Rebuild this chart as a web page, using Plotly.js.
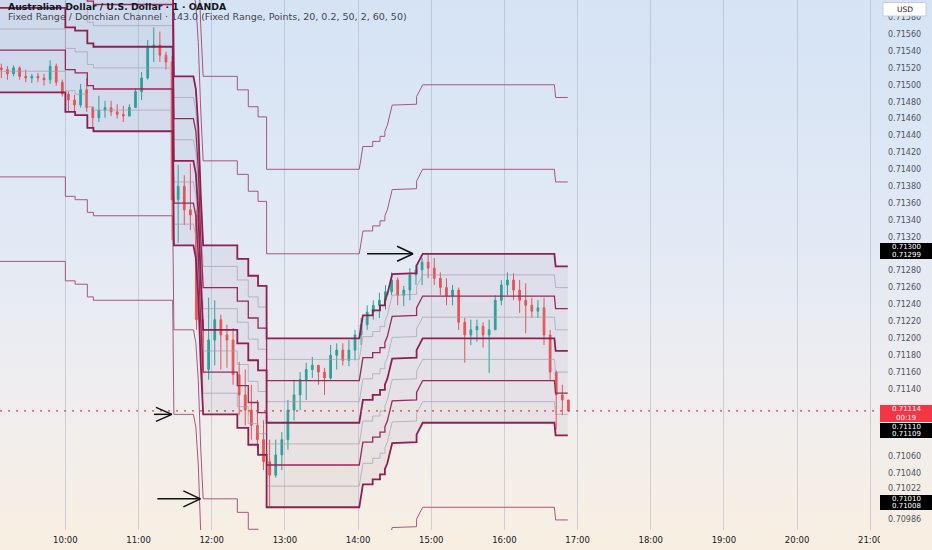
<!DOCTYPE html>
<html><head><meta charset="utf-8">
<script src="https://cdn.plot.ly/plotly-3.0.1.min.js"></script>
<style>
html,body{margin:0;padding:0;}
#chart{width:932px;height:550px;background:linear-gradient(to bottom,#d5e3f5 0%,#e1e9f5 40%,#eeedf0 68%,#f8efe2 100%);}
</style></head><body><div id="chart"></div>
<script>
// ---------- data ----------
const candleTimes=['09:05','09:10','09:15','09:20','09:25','09:30','09:35','09:40','09:45','09:50','09:55',
'10:00','10:05','10:10','10:15','10:20','10:25','10:30','10:35','10:40','10:45','10:50','10:55',
'11:00','11:05','11:10','11:15','11:20','11:25','11:30','11:35','11:40','11:45','11:50','11:55',
'12:00','12:05','12:10','12:15','12:20','12:25','12:30','12:35','12:40','12:45','12:50','12:55',
'13:00','13:05','13:10','13:15','13:20','13:25','13:30','13:35','13:40','13:45','13:50','13:55',
'14:00','14:05','14:10','14:15','14:20','14:25','14:30','14:35','14:40','14:45','14:50','14:55',
'15:00','15:05','15:10','15:15','15:20','15:25','15:30','15:35','15:40','15:45','15:50','15:55',
'16:00','16:05','16:10','16:15','16:20','16:25','16:30','16:35','16:40','16:45','16:50'];
const candleHigh=[0.71525,0.71522,0.71523,0.71522,0.71518,0.71513,0.71514,0.71513,0.71529,0.71525,0.71506,
0.71492,0.71488,0.71501,0.71508,0.71473,0.71487,0.71481,0.71481,0.71477,0.71475,0.71477,0.71496,
0.71515,0.71553,0.71568,0.71563,0.71539,0.71534,0.71405,0.71393,0.71407,0.71352,0.71245,0.71248,
0.71245,0.71228,0.71216,0.71212,0.71172,0.71163,0.71145,0.71127,0.71103,0.71080,0.71080,0.71089,
0.71127,0.71151,0.71160,0.71171,0.71178,0.71168,0.71165,0.71192,0.71194,0.71194,0.71198,0.71210,
0.71224,0.71239,0.71245,0.71254,0.71263,0.71278,0.71272,0.71262,0.71283,0.71287,0.71295,0.71299,
0.71295,0.71278,0.71271,0.71263,0.71260,0.71224,0.71222,0.71222,0.71219,0.71222,0.71251,0.71269,
0.71278,0.71277,0.71269,0.71265,0.71248,0.71245,0.71248,0.71210,0.71162,0.71145,0.71127];
const candleLow=[0.71508,0.71506,0.71510,0.71506,0.71503,0.71502,0.71503,0.71499,0.71501,0.71499,0.71486,
0.71468,0.71469,0.71473,0.71468,0.71449,0.71456,0.71461,0.71463,0.71460,0.71456,0.71463,0.71473,
0.71482,0.71506,0.71527,0.71527,0.71518,0.71316,0.71313,0.71334,0.71328,0.71210,0.71139,0.71151,
0.71168,0.71163,0.71165,0.71145,0.71109,0.71097,0.71080,0.71068,0.71044,0.71001,0.71035,0.71044,
0.71068,0.71103,0.71115,0.71127,0.71153,0.71145,0.71133,0.71151,0.71163,0.71168,0.71167,0.71174,
0.71192,0.71210,0.71222,0.71224,0.71234,0.71251,0.71239,0.71238,0.71245,0.71263,0.71263,0.71271,
0.71263,0.71251,0.71239,0.71239,0.71210,0.71171,0.71192,0.71196,0.71189,0.71159,0.71210,0.71239,
0.71251,0.71245,0.71230,0.71206,0.71224,0.71224,0.71192,0.71151,0.71092,0.71109,0.71113];
const candleClose=[0.71518,0.71513,0.71520,0.71510,0.71508,0.71510,0.71508,0.71506,0.71522,0.71503,0.71489,
0.71482,0.71476,0.71494,0.71473,0.71461,0.71470,0.71473,0.71468,0.71465,0.71463,0.71473,0.71492,
0.71508,0.71544,0.71547,0.71535,0.71527,0.71364,0.71380,0.71352,0.71346,0.71222,0.71163,0.71198,
0.71222,0.71204,0.71198,0.71157,0.71133,0.71115,0.71097,0.71080,0.71054,0.71038,0.71062,0.71080,
0.71115,0.71133,0.71151,0.71163,0.71168,0.71160,0.71153,0.71180,0.71186,0.71174,0.71186,0.71204,
0.71216,0.71231,0.71239,0.71245,0.71255,0.71269,0.71251,0.71257,0.71275,0.71281,0.71290,0.71283,
0.71271,0.71260,0.71250,0.71257,0.71219,0.71204,0.71210,0.71214,0.71204,0.71210,0.71245,0.71263,
0.71269,0.71257,0.71245,0.71239,0.71232,0.71236,0.71204,0.71160,0.71133,0.71127,0.71114];
const firstOpen=0.71520;
const lastPrice=0.71114;

// channel bottom line (vertices); all other levels sit at fixed offsets from it
const channelTimes=['09:00','10:00','10:00','10:08','10:08','10:18','10:18','10:23','10:23','11:28','11:29','11:45','11:47','11:49','11:51','11:53',
'12:21','12:21','12:30','12:30','12:38','12:38','12:45','12:45','14:01','14:04','14:12','14:12','14:18','14:18','14:22','14:22','14:24','14:28',
'14:48','14:48','14:53','16:41','16:42','16:52'];
const channelBottom=[0.71491,0.71491,0.71468,0.71468,0.71464,0.71464,0.71449,0.71449,0.71445,0.71445,0.71310,0.71310,0.71295,0.71250,0.71170,0.71110,
0.71110,0.71094,0.71094,0.71074,0.71074,0.71062,0.71062,0.71000,0.71000,0.71027,0.71027,0.71033,0.71033,0.71039,0.71039,0.71045,0.71052,0.71076,
0.71077,0.71086,0.71100,0.71100,0.71085,0.71085];
const levelOffsets=[0.004,0.003,0.002,0.00175,0.0015,0.00125,0.001,0.00075,0.0005,0.00025,0,-0.001,-0.002];
const levelKinds=['outer','outer','thick','thin','mid','thin','thick','thin','mid','thin','thick','outer','outer'];

const priceTicks=[0.71580,0.71560,0.71540,0.71520,0.71500,0.71480,0.71460,0.71440,0.71420,0.71400,0.71380,0.71360,0.71340,0.71320,
0.71280,0.71260,0.71240,0.71220,0.71200,0.71180,0.71160,0.71140,0.71060,0.71040,0.71022,0.70986];
const hourTicks=['10:00','11:00','12:00','13:00','14:00','15:00','16:00','17:00','18:00','19:00','20:00','21:00'];

const badges=[
 {top:243,bottom:259,bg:'#000000',lines:['0.71300','0.71299']},
 {top:405,bottom:422,bg:'#f23645',lines:['0.71114','00:19']},
 {top:423,bottom:438,bg:'#000000',lines:['0.71110','0.71109']},
 {top:495,bottom:510,bg:'#000000',lines:['0.71010','0.71008']}
];
const arrows=[
 {tip:'11:50:42',price:0.71010,shaft:43,wdx:17,wdy:8},
 {tip:'11:27:24',price:0.71110,shaft:18,wdx:16,wdy:7},
 {tip:'14:45:06',price:0.71300,shaft:46,wdx:16,wdy:7.5}
];

// ---------- helpers ----------
const DAYMS=Date.UTC(2024,4,2);
function tms(s){const p=s.split(':').map(Number);return DAYMS+((p[0]*60+p[1])*60+(p[2]||0))*1000;}
const W=880,H=530;
const xRange=[tms('09:06:24'),tms('21:08:00')];
const yRange=[0.709731,0.7160035];
const msPerPx=(xRange[1]-xRange[0])/W;
const pricePerPx=(yRange[1]-yRange[0])/H;
const py=px=>1-px/H;
const pxx=px=>px/W;

// ---------- traces ----------
const traces=[];
const chX=channelTimes.map(tms);
const lvl=off=>channelBottom.map(v=>+(v+off).toFixed(6));
traces.push({x:chX,y:lvl(0),mode:'lines',line:{width:0,color:'rgba(0,0,0,0)'},hoverinfo:'skip',showlegend:false});
traces.push({x:chX,y:lvl(0.002),mode:'lines',line:{width:0,color:'rgba(0,0,0,0)'},fill:'tonexty',fillcolor:'rgba(125,100,150,0.085)',hoverinfo:'skip',showlegend:false});
const styles={thin:{color:'rgba(165,155,175,0.75)',width:0.9},outer:{color:'#a5587f',width:1},mid:{color:'#962a58',width:1.3},thick:{color:'#8d2051',width:1.8}};
['thin','outer','mid','thick'].forEach(kind=>{
  levelOffsets.forEach((off,i)=>{
    if(levelKinds[i]!==kind) return;
    traces.push({x:chX,y:lvl(off),mode:'lines',line:Object.assign({shape:'linear'},styles[kind]),hoverinfo:'skip',showlegend:false});
  });
});
const opens=candleClose.map((c,i)=>i===0?firstOpen:candleClose[i-1]);
traces.push({type:'candlestick',x:candleTimes.map(tms),xperiod:300000,xperiodalignment:'middle',
  open:opens,high:candleHigh,low:candleLow,close:candleClose,
  increasing:{line:{color:'#26a69a',width:1},fillcolor:'#26a69a'},
  decreasing:{line:{color:'#ef5350',width:1},fillcolor:'#ef5350'},
  whiskerwidth:0,hoverinfo:'skip',showlegend:false});

// ---------- decorations ----------
const shapes=[],annotations=[];
shapes.push({type:'line',xref:'paper',x0:0,x1:1,yref:'y',y0:lastPrice,y1:lastPrice,line:{color:'#f23645',width:1.3,dash:'2px,6px'},layer:'above'});
arrows.forEach(a=>{
  const t=tms(a.tip);
  const seg=(dx,dy)=>({type:'line',xref:'x',yref:'y',x0:t-dx*msPerPx,y0:a.price+dy*pricePerPx,x1:t,y1:a.price,line:{color:'#111111',width:1.5},layer:'above'});
  shapes.push(seg(a.shaft,0),seg(a.wdx,a.wdy),seg(a.wdx,-a.wdy));
});
// cover the time-axis strip under the price scale
shapes.push({type:'rect',xref:'paper',yref:'paper',x0:1,x1:pxx(932),y0:py(550),y1:py(530),fillcolor:'#f8efe2',line:{width:0},layer:'above'});
// USD box
shapes.push({type:'rect',xref:'paper',yref:'paper',x0:pxx(883),x1:pxx(926),y0:py(16),y1:py(2.5),fillcolor:'#ffffff',line:{color:'#c9ccd6',width:1},layer:'above'});
annotations.push({xref:'paper',yref:'paper',x:pxx(904.5),y:py(9.5),xanchor:'center',yanchor:'middle',text:'USD',showarrow:false,font:{family:'DejaVu Sans',size:7.5,color:'#131722'}});
badges.forEach(b=>{
  shapes.push({type:'rect',xref:'paper',yref:'paper',x0:1,x1:pxx(932),y0:py(b.bottom),y1:py(b.top),fillcolor:b.bg,line:{width:0},layer:'above'});
  const h=(b.bottom-b.top)/2;
  b.lines.forEach((s,k)=>{
    annotations.push({xref:'paper',yref:'paper',x:pxx(906),y:py(b.top+h*(k+0.5)),xanchor:'center',yanchor:'middle',text:s,showarrow:false,
      font:{family:'DejaVu Sans',size:7,color:'#ffffff'},borderpad:0});
  });
});
annotations.push({xref:'paper',yref:'paper',x:pxx(7),y:py(6.5),xanchor:'left',yanchor:'middle',showarrow:false,borderpad:0,
  text:'<b>Australian Dollar / U.S. Dollar · 1 · OANDA</b>',font:{family:'DejaVu Sans',size:9.3,color:'#131722'}});
annotations.push({xref:'paper',yref:'paper',x:pxx(7),y:py(17),xanchor:'left',yanchor:'middle',showarrow:false,borderpad:0,
  text:'Fixed Range / Donchian Channel · 143.0 (Fixed Range, Points, 20, 0.2, 50, 2, 60, 50)',font:{family:'DejaVu Sans',size:9.5,color:'#434651'}});

const layout={
  width:932,height:550,margin:{l:0,r:52,t:0,b:20},
  paper_bgcolor:'rgba(0,0,0,0)',plot_bgcolor:'rgba(0,0,0,0)',
  showlegend:false,boxgap:0.6,
  xaxis:{type:'date',range:xRange,tickvals:hourTicks.map(tms),ticktext:hourTicks,showgrid:true,gridcolor:'rgba(140,150,165,0.35)',gridwidth:1,
    zeroline:false,showline:false,ticks:'',tickfont:{family:'DejaVu Sans',size:8.5,color:'#131722'},rangeslider:{visible:false},fixedrange:true,ticklabelstandoff:3},
  yaxis:{side:'right',range:yRange,tickvals:priceTicks,ticktext:priceTicks.map(v=>v.toFixed(5)),showgrid:false,zeroline:false,showline:false,ticks:'',
    tickfont:{family:'DejaVu Sans',size:8,color:'#50535e'},ticklabelstandoff:7,fixedrange:true},
  shapes:shapes,annotations:annotations
};
Plotly.newPlot('chart',traces,layout,{displayModeBar:false,staticPlot:true});
</script></body></html>
